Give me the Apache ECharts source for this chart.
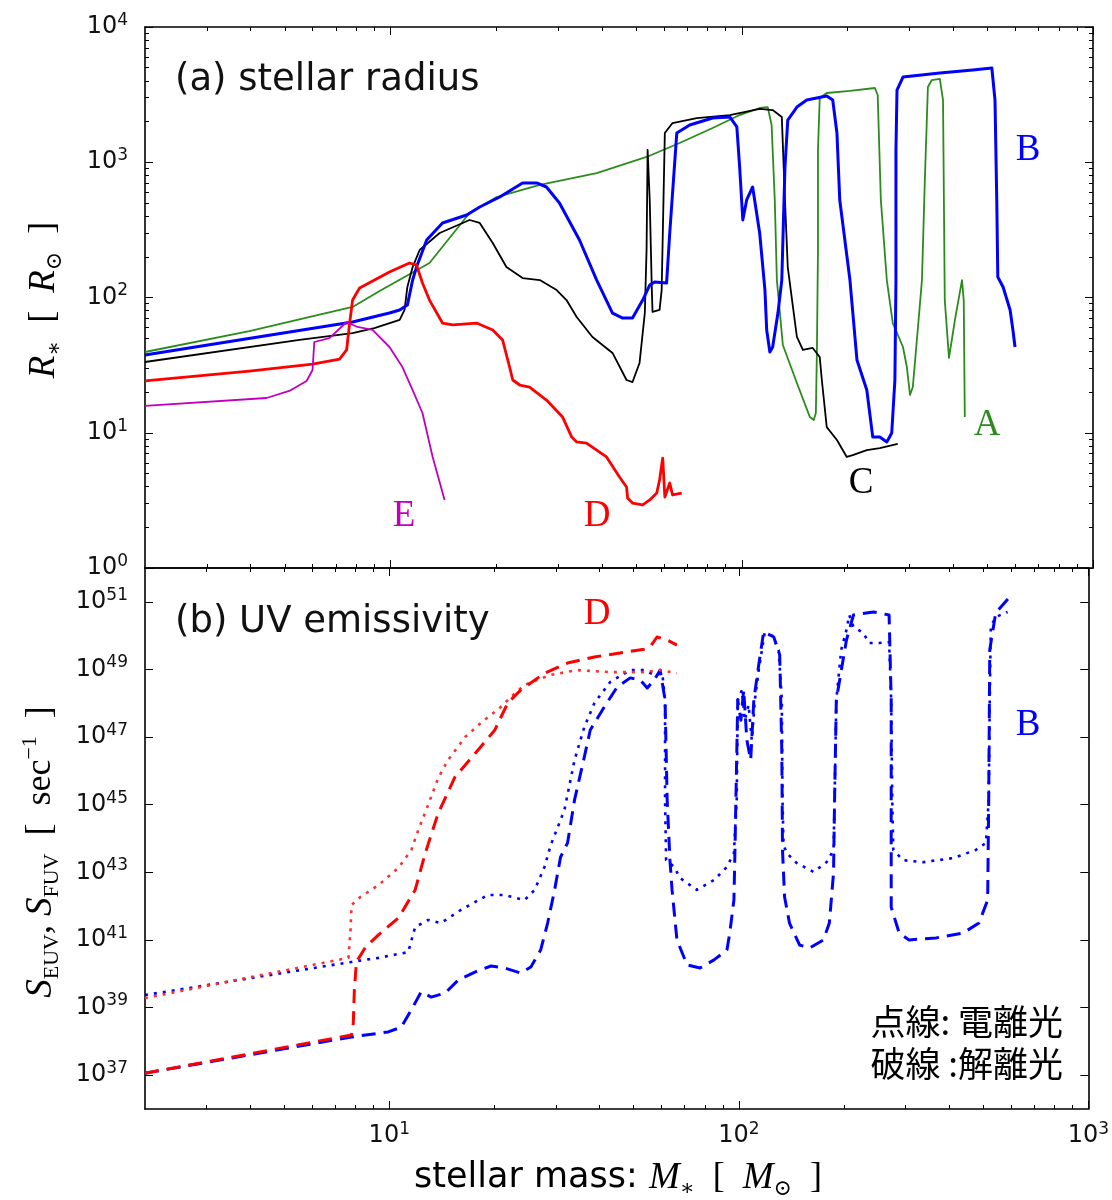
<!DOCTYPE html>
<html lang="ja">

<head>
  <meta charset="utf-8">
  <title>Stellar radius and UV emissivity</title>
  <script src="https://cdn.jsdelivr.net/npm/echarts@6.0.0/dist/echarts.min.js"></script>
  <style>
    body {
      margin: 0;
      background: white;
    }

    #chart {
      width: 1112px;
      height: 1200px;
    }
  </style>
</head>

<body>
  <div id="chart"></div>

  <script>
    // --- Data.
    // Both panels are log-log, so every value is kept as a log10:
    // x = log10(M / Msun), y = log10(R / Rsun) or log10(S / sec^-1).

    // Panel (a), stellar radius, one [logM, logR] list per model.
    const radiusA = [
      [0.301, 1.597], [0.598, 1.752], [0.892, 1.930], [0.969, 2.048], [1.111, 2.255],
      [1.225, 2.625], [1.302, 2.743], [1.425, 2.832], [1.587, 2.920], [1.729, 3.039],
      [1.823, 3.142], [1.917, 3.253], [1.994, 3.349], [2.051, 3.401], [2.074, 3.408],
      [2.085, 3.275], [2.094, 2.721], [2.100, 2.129], [2.117, 1.649], [2.157, 1.368],
      [2.194, 1.116], [2.205, 1.094], [2.211, 1.146], [2.214, 1.612], [2.217, 2.351],
      [2.217, 3.091], [2.222, 3.475], [2.242, 3.512], [2.308, 3.527], [2.379, 3.549],
      [2.387, 3.497], [2.396, 2.721], [2.413, 2.129], [2.430, 1.811], [2.459, 1.634],
      [2.470, 1.486], [2.479, 1.279], [2.487, 1.338], [2.501, 1.760], [2.513, 2.129],
      [2.521, 2.847], [2.530, 3.556], [2.541, 3.608], [2.564, 3.616], [2.573, 3.460],
      [2.578, 1.981], [2.590, 1.553], [2.607, 1.834], [2.627, 2.129], [2.632, 1.981],
      [2.635, 1.116]
    ];

    const radiusB = [
      [0.301, 1.575], [0.892, 1.819], [0.997, 1.885], [1.026, 1.908], [1.048, 1.944],
      [1.063, 2.129], [1.074, 2.225], [1.103, 2.425], [1.148, 2.551], [1.217, 2.610],
      [1.254, 2.669], [1.311, 2.743], [1.376, 2.847], [1.416, 2.847], [1.444, 2.817],
      [1.481, 2.699], [1.538, 2.425], [1.587, 2.129], [1.632, 1.885], [1.661, 1.848],
      [1.689, 1.848], [1.718, 1.981], [1.738, 2.092], [1.752, 2.115], [1.786, 2.107],
      [1.795, 2.477], [1.815, 3.216], [1.852, 3.275], [1.917, 3.327], [1.966, 3.335],
      [1.986, 3.261], [1.994, 2.965], [2.003, 2.573], [2.014, 2.721], [2.031, 2.817],
      [2.051, 2.477], [2.066, 2.055], [2.071, 1.760], [2.080, 1.597], [2.088, 1.634],
      [2.103, 1.885], [2.114, 2.129], [2.123, 2.965], [2.131, 3.312], [2.157, 3.408],
      [2.185, 3.460], [2.242, 3.490], [2.259, 3.460], [2.271, 3.216], [2.279, 2.721],
      [2.308, 2.129], [2.328, 1.538], [2.356, 1.316], [2.373, 0.968], [2.393, 0.968],
      [2.413, 0.932], [2.427, 0.998], [2.436, 1.390], [2.439, 2.129], [2.439, 3.091],
      [2.442, 3.534], [2.459, 3.630], [2.564, 3.660], [2.658, 3.682], [2.712, 3.697],
      [2.721, 3.460], [2.726, 2.721], [2.729, 2.152], [2.744, 2.078], [2.764, 1.908],
      [2.772, 1.760], [2.778, 1.634]
    ];

    const radiusC = [
      [0.301, 1.523], [0.741, 1.686], [0.892, 1.737], [0.954, 1.774], [1.026, 1.834],
      [1.040, 1.908], [1.048, 2.078], [1.063, 2.225], [1.083, 2.351], [1.140, 2.477],
      [1.225, 2.573], [1.254, 2.551], [1.291, 2.403], [1.330, 2.225], [1.376, 2.144],
      [1.425, 2.129], [1.473, 2.055], [1.501, 1.981], [1.530, 1.856], [1.575, 1.708],
      [1.632, 1.590], [1.672, 1.390], [1.689, 1.375], [1.709, 1.516], [1.724, 1.885],
      [1.729, 2.351], [1.732, 3.091], [1.738, 2.721], [1.744, 2.055], [1.746, 1.893],
      [1.766, 1.908], [1.772, 2.055], [1.781, 3.216], [1.803, 3.290], [1.872, 3.327],
      [1.966, 3.349], [2.051, 3.394], [2.088, 3.386], [2.114, 3.335], [2.123, 2.721],
      [2.131, 2.225], [2.142, 2.004], [2.157, 1.708], [2.174, 1.612], [2.202, 1.627],
      [2.222, 1.560], [2.228, 1.390], [2.242, 1.042], [2.271, 0.946], [2.299, 0.821],
      [2.316, 0.835], [2.356, 0.872], [2.393, 0.887], [2.444, 0.917]
    ];

    const radiusD = [
      [0.301, 1.383], [0.598, 1.456], [0.778, 1.508], [0.855, 1.545], [0.875, 1.612],
      [0.883, 1.797], [0.892, 1.981], [0.912, 2.070], [0.997, 2.188], [1.054, 2.255],
      [1.074, 2.240], [1.091, 2.107], [1.111, 1.981], [1.148, 1.811], [1.177, 1.797],
      [1.245, 1.811], [1.291, 1.760], [1.319, 1.686], [1.339, 1.486], [1.348, 1.390],
      [1.368, 1.353], [1.396, 1.338], [1.444, 1.242], [1.490, 1.116], [1.516, 0.968],
      [1.530, 0.932], [1.558, 0.924], [1.615, 0.821], [1.652, 0.673], [1.672, 0.599],
      [1.675, 0.517], [1.689, 0.480], [1.718, 0.466], [1.738, 0.503], [1.758, 0.554],
      [1.766, 0.651], [1.775, 0.813], [1.781, 0.525], [1.795, 0.628], [1.803, 0.540],
      [1.829, 0.554]
    ];

    const radiusE = [
      [0.301, 1.198], [0.647, 1.257], [0.712, 1.309], [0.761, 1.383], [0.778, 1.464],
      [0.783, 1.671], [0.826, 1.700], [0.875, 1.819], [0.906, 1.782], [0.949, 1.760],
      [0.997, 1.634], [1.034, 1.486], [1.063, 1.316], [1.091, 1.146], [1.120, 0.821],
      [1.154, 0.503]
    ];

    // Panel (b), UV emissivity, [logM, logS]; EUV is dotted, FUV dashed.
    const euvD = [
      [0.301, 39.28], [0.883, 40.47], [0.889, 41.29], [0.892, 42.03], [0.917, 42.27],
      [0.969, 42.62], [1.026, 43.13], [1.063, 43.66], [1.083, 44.25], [1.111, 44.99],
      [1.140, 45.79], [1.168, 46.32], [1.217, 47.00], [1.262, 47.42], [1.319, 47.89],
      [1.348, 48.19], [1.387, 48.54], [1.462, 48.84], [1.538, 48.98], [1.632, 48.92],
      [1.729, 48.92], [1.775, 48.98], [1.823, 48.89]
    ];

    const fuvD = [
      [0.301, 37.06], [0.892, 38.19], [0.897, 38.54], [0.900, 39.52], [0.906, 40.35],
      [0.932, 40.79], [0.969, 41.15], [1.026, 41.65], [1.074, 42.48], [1.103, 43.57],
      [1.140, 44.75], [1.188, 45.82], [1.254, 46.62], [1.302, 47.21], [1.339, 48.01],
      [1.376, 48.39], [1.444, 48.89], [1.510, 49.19], [1.587, 49.37], [1.681, 49.52],
      [1.729, 49.60], [1.746, 49.66], [1.766, 49.96], [1.795, 49.87], [1.823, 49.72]
    ];

    const euvB = [
      [0.301, 39.37], [0.892, 40.35], [0.969, 40.47], [1.054, 40.64], [1.074, 41.38],
      [1.111, 41.59], [1.148, 41.50], [1.205, 41.89], [1.282, 42.33], [1.330, 42.33],
      [1.387, 42.18], [1.416, 42.48], [1.444, 43.16], [1.462, 43.81], [1.501, 44.84],
      [1.530, 46.32], [1.558, 47.30], [1.587, 48.01], [1.632, 48.63], [1.689, 48.98],
      [1.729, 48.98], [1.758, 48.84], [1.781, 48.89], [1.789, 48.10], [1.789, 45.14],
      [1.792, 43.36], [1.815, 43.16], [1.832, 42.83], [1.880, 42.48], [1.929, 42.77],
      [1.966, 43.16], [1.986, 43.57], [1.994, 45.14], [1.997, 48.10], [2.009, 48.39],
      [2.017, 47.50], [2.028, 47.95], [2.037, 46.91], [2.046, 48.10], [2.057, 48.98],
      [2.074, 50.08], [2.097, 49.99], [2.114, 49.58], [2.123, 48.10], [2.125, 45.14],
      [2.128, 43.81], [2.137, 43.57], [2.165, 43.28], [2.214, 43.01], [2.251, 43.30],
      [2.271, 43.66], [2.274, 45.14], [2.279, 48.10], [2.293, 49.58], [2.308, 50.17],
      [2.316, 50.61], [2.328, 50.26], [2.356, 50.08], [2.373, 49.78], [2.402, 49.78],
      [2.430, 49.81], [2.436, 48.10], [2.439, 45.14], [2.442, 43.66], [2.470, 43.36],
      [2.527, 43.30], [2.613, 43.42], [2.678, 43.66], [2.707, 43.87], [2.715, 45.14],
      [2.718, 48.10], [2.721, 50.26], [2.735, 50.55], [2.769, 50.70]
    ];

    const fuvB = [
      [0.301, 37.06], [0.892, 38.13], [0.997, 38.28], [1.034, 38.42], [1.063, 38.93],
      [1.091, 39.46], [1.120, 39.31], [1.160, 39.43], [1.197, 39.81], [1.245, 40.05],
      [1.291, 40.23], [1.330, 40.17], [1.376, 40.02], [1.405, 40.20], [1.433, 40.70],
      [1.453, 41.50], [1.473, 42.48], [1.490, 43.45], [1.510, 43.87], [1.530, 45.14],
      [1.558, 46.41], [1.575, 47.21], [1.615, 47.89], [1.652, 48.48], [1.689, 48.75],
      [1.718, 48.69], [1.738, 48.45], [1.758, 48.69], [1.775, 48.98], [1.789, 48.10],
      [1.795, 45.14], [1.803, 43.36], [1.809, 42.48], [1.823, 41.00], [1.852, 40.26],
      [1.889, 40.17], [1.929, 40.41], [1.966, 40.70], [1.974, 41.20], [1.986, 42.18],
      [1.989, 43.66], [1.997, 48.10], [2.006, 47.50], [2.014, 48.39], [2.023, 46.91],
      [2.034, 46.32], [2.043, 48.10], [2.057, 49.13], [2.071, 50.11], [2.100, 49.96],
      [2.117, 49.43], [2.123, 46.62], [2.125, 43.66], [2.131, 42.27], [2.145, 41.50],
      [2.174, 40.85], [2.202, 40.76], [2.242, 41.00], [2.259, 41.50], [2.271, 42.98],
      [2.274, 45.14], [2.279, 48.10], [2.308, 49.87], [2.328, 50.61], [2.385, 50.70],
      [2.430, 50.61], [2.436, 48.10], [2.436, 41.97], [2.459, 41.20], [2.487, 41.00],
      [2.564, 41.06], [2.641, 41.20], [2.687, 41.50], [2.712, 42.18], [2.715, 45.14],
      [2.718, 49.58], [2.735, 50.67], [2.772, 51.11]
    ];

    // Axis ranges and labelled decades (exponents).
    const massRange = [Math.log10(2), 3];
    const radiusRange = [0, 4];
    const emissRange = [36, 52];
    const massLabels = [1, 2, 3];
    const radiusLabels = [0, 1, 2, 3, 4];
    const emissLabels = [37, 39, 41, 43, 45, 47, 49, 51];



    // --- Styling helpers.



    const SANS = 'DejaVu Sans';
    const SERIF = 'Liberation Serif, DejaVu Serif';
    const INK = '#111';

    // Minor ticks of a log axis: 2..9 times each decade, inside the range.
    function minorTicks(range) {
      const ticks = [];
      for (let n = Math.floor(range[0]); n < range[1]; n++) {
        for (let k = 2; k <= 9; k++) {
          const v = n + Math.log10(k);
          if (v > range[0] + 1e-6 && v < range[1] - 1e-6) ticks.push(v);
        }
      }
      return ticks;
    }

    // Labels like 10^3 with a superscript exponent.
    function powerLabel(v) {
      return '{b|10}{s|' + Math.round(v) + '}';
    }

    const POWER_RICH = {
      b: { fontFamily: SANS, fontSize: 24, lineHeight: 30, color: INK },
      s: { fontFamily: SANS, fontSize: 17, lineHeight: 18, verticalAlign: 'top', color: INK }
    };

    // One value axis; ticks point inward like matplotlib.
    function axis(gridIndex, position, range, ticks, opts) {
      opts = opts || {};
      return {
        type: 'value',
        gridIndex: gridIndex,
        position: position,
        min: range[0],
        max: range[1],
        axisLine: {
          show: !!opts.line,
          onZero: false,
          lineStyle: { color: '#000', width: 1.6 }
        },
        axisTick: {
          show: true,
          inside: true,
          length: opts.minor ? 4 : 8,
          customValues: ticks,
          lineStyle: { color: '#000', width: 1 }
        },
        axisLabel: opts.labels ? {
          show: true,
          customValues: opts.labels,
          formatter: powerLabel,
          margin: opts.margin,
          showMinLabel: true,
          showMaxLabel: true,
          rich: POWER_RICH
        } : { show: false },
        splitLine: { show: false }
      };
    }

    // Axes of both panels. The x axes are shared in range, labels only at the bottom.
    function makeXAxes() {
      const major = massLabels;
      const minor = minorTicks(massRange);
      return [
        axis(0, 'bottom', massRange, major, { line: true }),
        axis(0, 'bottom', massRange, minor, { minor: true }),
        axis(0, 'top', massRange, major, { line: true }),
        axis(0, 'top', massRange, minor, { minor: true }),
        axis(1, 'bottom', massRange, major, { line: true, labels: massLabels, margin: 12 }),
        axis(1, 'bottom', massRange, minor, { minor: true }),
        axis(1, 'top', massRange, major, { line: true }),
        axis(1, 'top', massRange, minor, { minor: true })
      ];
    }

    function makeYAxes() {
      const minor = minorTicks(radiusRange);
      return [
        axis(0, 'left', radiusRange, radiusLabels, { line: true, labels: radiusLabels, margin: 17 }),
        axis(0, 'left', radiusRange, minor, { minor: true }),
        axis(0, 'right', radiusRange, radiusLabels, { line: true }),
        axis(0, 'right', radiusRange, minor, { minor: true }),
        axis(1, 'left', emissRange, emissLabels, { line: true, labels: emissLabels, margin: 17 }),
        axis(1, 'right', emissRange, emissLabels, { line: true })
      ];
    }

    // A line series on one of the two panels.
    function curve(panel, data, color, width, dash) {
      return {
        type: 'line',
        xAxisIndex: panel === 0 ? 0 : 4,
        yAxisIndex: panel === 0 ? 0 : 4,
        data: data,
        showSymbol: false,
        symbol: 'none',
        silent: true,
        lineStyle: { color: color, width: width, type: dash || 'solid', cap: 'butt', join: 'round' }
      };
    }

    const MATH_RICH = {
      i: { fontFamily: SERIF, fontStyle: 'italic', fontSize: 37, lineHeight: 44, color: INK },
      n: { fontFamily: SERIF, fontSize: 36, lineHeight: 44, color: INK },
      t: { fontFamily: SANS, fontSize: 35, lineHeight: 44, color: INK },
      sb: { fontFamily: SERIF, fontSize: 22, lineHeight: 20, verticalAlign: 'bottom', color: INK },
      sp: { fontFamily: SERIF, fontSize: 22, lineHeight: 20, verticalAlign: 'top', color: INK }
    };

    function text(x, y, str, style) {
      return {
        type: 'text', x: x, y: y, silent: true,
        style: Object.assign({ text: str, verticalAlign: 'middle' }, style)
      };
    }

    function letter(x, y, str, color) {
      return text(x, y, str, { fontFamily: SERIF, fontSize: 37, fill: color, align: 'center' });
    }

    function makeGraphics() {
      const panelTitle = { fontFamily: SANS, fontSize: 37, fill: INK, align: 'left' };
      const cjk = { fontFamily: 'Noto Sans CJK JP', fontSize: 35, fill: '#000', align: 'right' };
      return [
        text(175, 80, '(a) stellar radius', panelTitle),
        text(175, 622, '(b) UV emissivity', panelTitle),

        letter(1028, 150, 'B', '#0000ff'),
        letter(987, 425, 'A', '#2b8c1b'),
        letter(861, 483, 'C', '#000'),
        letter(597, 516, 'D', '#ff0000'),
        letter(404, 516, 'E', '#c000c0'),
        letter(597, 614, 'D', '#ff0000'),
        letter(1028, 725, 'B', '#0000ff'),

        text(1063, 1022, '点線: 電離光', cjk),
        text(1063, 1064, '破線 :解離光', cjk),

        // Axis titles, with math-style italics and sub/superscripts.
        Object.assign(text(44, 300, '{i|R}{sb|∗}{n|  [  }{i|R}{sb|⊙}{n|  ]}',
          { rich: MATH_RICH, align: 'center' }), { rotation: Math.PI / 2 }),
        Object.assign(text(41, 852, '{i|S}{sb|EUV}{n|, }{i|S}{sb|FUV}{n|  [  sec}{sp|−1}{n|  ]}',
          { rich: MATH_RICH, align: 'center' }), { rotation: Math.PI / 2 }),
        text(618, 1178, '{t|stellar mass: }{i|M}{sb|∗}{n|  [  }{i|M}{sb|⊙}{n|  ]}',
          { rich: MATH_RICH, align: 'center' })
      ];
    }



    // --- Main.



    function makeOptions() {
      const dotted = [3, 6];
      const dashed = [14, 8];
      return {
        animation: false,
        backgroundColor: '#fff',
        grid: [
          { left: 145, top: 27, width: 948, height: 541 },
          { left: 145, top: 568, width: 948, height: 541 }
        ],
        xAxis: makeXAxes(),
        yAxis: makeYAxes(),
        series: [
          curve(0, radiusA, '#2b8c1b', 1.8),
          curve(0, radiusC, '#000', 1.8),
          curve(0, radiusB, '#0000ff', 3),
          curve(0, radiusD, '#ff0000', 2.8),
          curve(0, radiusE, '#c000c0', 1.8),

          curve(1, euvB, '#0000ff', 2.6, dotted),
          curve(1, fuvB, '#0000ff', 3, dashed),
          curve(1, euvD, '#ff3030', 2.6, dotted),
          curve(1, fuvD, '#ff0000', 3, dashed)
        ],
        graphic: makeGraphics()
      };
    }

    const chart = echarts.init(document.getElementById('chart'));
    chart.setOption(makeOptions());
  </script>
</body>

</html>
